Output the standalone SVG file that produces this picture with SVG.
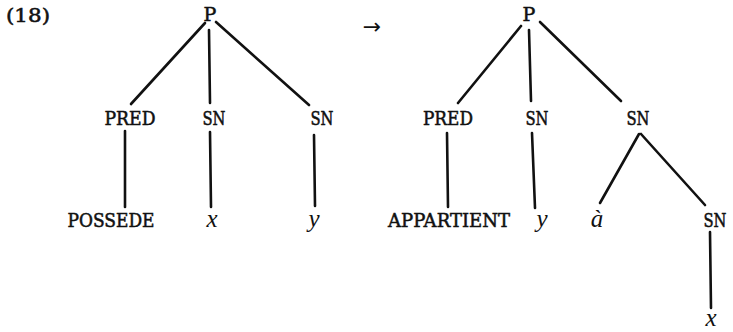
<svg xmlns="http://www.w3.org/2000/svg" width="733" height="332" viewBox="0 0 733 332">
<style>
.t{font-family:"DejaVu Serif","Liberation Serif",serif;font-size:19px;fill:#111;stroke:#111;stroke-width:0.55;text-anchor:middle}
.v{font-family:"Liberation Serif","Times New Roman",serif;font-style:italic;font-size:25px;fill:#111;text-anchor:middle}
.e{stroke:#111;stroke-width:2.6;fill:none;stroke-linecap:round}
</style>
<rect width="733" height="332" fill="#fff"/>
<g id="label"><text class="t" x="28" y="22" textLength="44" lengthAdjust="spacingAndGlyphs">(18)</text></g>
<g id="arrow"><text x="372" y="34" style="font-family:'DejaVu Sans',sans-serif;font-size:22px;fill:#111;text-anchor:middle">→</text></g>
<g id="connectors">
<line class="e" x1="205" y1="23" x2="131" y2="104"/>
<line class="e" x1="209" y1="30" x2="210" y2="103"/>
<line class="e" x1="216" y1="22" x2="309" y2="105"/>
<line class="e" x1="125" y1="131" x2="125" y2="207"/>
<line class="e" x1="210" y1="132" x2="211" y2="207"/>
<line class="e" x1="314" y1="135" x2="315" y2="206"/>
<line class="e" x1="521" y1="26" x2="458" y2="103"/>
<line class="e" x1="529" y1="30" x2="531" y2="101"/>
<line class="e" x1="540" y1="22" x2="621" y2="101"/>
<line class="e" x1="447" y1="133" x2="448" y2="207"/>
<line class="e" x1="532" y1="133" x2="535" y2="208"/>
<line class="e" x1="639" y1="134" x2="600" y2="203"/>
<line class="e" x1="641" y1="134" x2="705" y2="205"/>
<line class="e" x1="710" y1="232" x2="711" y2="308"/>
</g>
<g id="L-P"><text class="t" x="210" y="21">P</text></g>
<g id="L-PRED"><text class="t" x="130" y="125" textLength="51" lengthAdjust="spacingAndGlyphs">PRED</text></g>
<g id="L-SN1"><text class="t" x="214" y="125" textLength="23" lengthAdjust="spacingAndGlyphs">SN</text></g>
<g id="L-SN2"><text class="t" x="322" y="125" textLength="23" lengthAdjust="spacingAndGlyphs">SN</text></g>
<g id="L-POSSEDE"><text class="t" x="111" y="227" textLength="87" lengthAdjust="spacingAndGlyphs">POSSEDE</text></g>
<g id="L-x"><text class="v" x="212" y="227">x</text></g>
<g id="L-y"><text class="v" x="314" y="227">y</text></g>
<g id="R-P"><text class="t" x="529" y="21">P</text></g>
<g id="R-PRED"><text class="t" x="448" y="125" textLength="50" lengthAdjust="spacingAndGlyphs">PRED</text></g>
<g id="R-SN1"><text class="t" x="537" y="125" textLength="23" lengthAdjust="spacingAndGlyphs">SN</text></g>
<g id="R-SN2"><text class="t" x="638" y="125" textLength="23" lengthAdjust="spacingAndGlyphs">SN</text></g>
<g id="R-APPARTIENT"><text class="t" x="449" y="227" textLength="122" lengthAdjust="spacingAndGlyphs">APPARTIENT</text></g>
<g id="R-y"><text class="v" x="542" y="227">y</text></g>
<g id="R-a"><text class="v" x="597" y="227">à</text></g>
<g id="R-SN3"><text class="t" x="715" y="227" textLength="23" lengthAdjust="spacingAndGlyphs">SN</text></g>
<g id="R-x"><text class="v" x="711" y="326">x</text></g>
</svg>
